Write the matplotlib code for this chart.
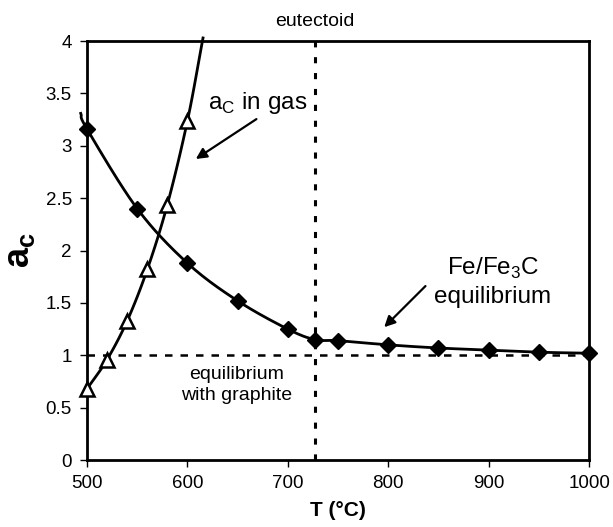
import numpy as np
import matplotlib.pyplot as plt

plt.rcParams['font.family'] = ['Liberation Sans', 'DejaVu Sans']
plt.rcParams['mathtext.fontset'] = 'custom'
plt.rcParams['mathtext.rm'] = 'Liberation Sans'
plt.rcParams['mathtext.bf'] = 'Liberation Sans:bold'

# Fe/Fe3C equilibrium carbon activity
fe3c_T = [500, 550, 600, 650, 700, 727, 750, 800, 850, 900, 950, 1000]
fe3c_ac = [3.16, 2.40, 1.88, 1.52, 1.25, 1.15, 1.14, 1.10, 1.07, 1.05, 1.03, 1.02]
# the drawn curve runs a little past the first point
fe3c_line_T = [493.7] + fe3c_T
fe3c_line_ac = [3.31] + fe3c_ac

# carbon activity in the gas
gas_T = [500, 520, 540, 560, 580, 600]
gas_ac = [0.68, 0.96, 1.33, 1.82, 2.44, 3.24]
gas_line_T = gas_T + [615.5]
gas_line_ac = gas_ac + [4.03]

eutectoid_T = 727
graphite_ac = 1.0
x_ticks = [500, 600, 700, 800, 900, 1000]
y_ticks = [0, 0.5, 1, 1.5, 2, 2.5, 3, 3.5, 4]


def smooth(xs, ys, n=20):
    # Catmull-Rom curve through the points, like a smoothed spreadsheet line
    p = np.column_stack([xs, ys]).astype(float)
    p = np.vstack([2 * p[0] - p[1], p, 2 * p[-1] - p[-2]])
    out = []
    t = np.linspace(0, 1, n, endpoint=False)[:, None]
    for i in range(1, len(p) - 2):
        p0, p1, p2, p3 = p[i - 1], p[i], p[i + 1], p[i + 2]
        seg = 0.5 * ((2 * p1) + (-p0 + p2) * t + (2 * p0 - 5 * p1 + 4 * p2 - p3) * t ** 2
                     + (-p0 + 3 * p1 - 3 * p2 + p3) * t ** 3)
        out.append(seg)
    out.append(p[-2][None, :])
    out = np.vstack(out)
    return out[:, 0], out[:, 1]


fig = plt.figure(figsize=(6.13, 5.27), dpi=100)
ax = fig.add_axes([0.142, 0.127, 0.819, 0.795])

ax.axvline(eutectoid_T, color='black', lw=2.2, ls=(0, (2, 3.2)), zorder=1)
ax.plot([500, 1000], [graphite_ac, graphite_ac], color='black', lw=1.8, ls=(0, (3, 3.2)), zorder=1)

sx, sy = smooth(fe3c_line_T, fe3c_line_ac)
ax.plot(sx, sy, color='black', lw=2, clip_on=False, zorder=3)
ax.plot(fe3c_T, fe3c_ac, ls='none', marker='D', ms=8.5, color='black', clip_on=False, zorder=4)

gx, gy = smooth(gas_line_T, gas_line_ac)
ax.plot(gx, gy, color='black', lw=2, clip_on=False, zorder=3)
ax.plot(gas_T, gas_ac, ls='none', marker='^', ms=10.5, mfc='white', mec='black', mew=1.8,
        clip_on=False, zorder=4)

ax.set_xlim(500, 1000)
ax.set_ylim(0, 4)
ax.set_xticks(x_ticks)
ax.set_yticks(y_ticks)
ax.set_yticklabels([f'{v:g}' for v in y_ticks])
ax.tick_params(direction='out', length=5, width=1, labelsize=13.5, pad=6)
for s in ax.spines.values():
    s.set_linewidth(2)

ax.set_xlabel('T (°C)', fontsize=15, fontweight='bold', labelpad=6)
ax.set_ylabel(r'$\mathbf{a}_\mathbf{c}$', fontsize=26, labelpad=6)

ax.text(eutectoid_T, 4.11, 'eutectoid', ha='center', va='bottom', fontsize=14)
ax.text(670, 3.41, r'a$_\mathrm{C}$ in gas', ha='center', va='center', fontsize=17.5)
ax.annotate('', xy=(606, 2.86), xytext=(671, 3.27),
            arrowprops=dict(arrowstyle='-|>', color='black', lw=1.6, mutation_scale=16))
ax.text(904, 1.70, 'Fe/Fe$_3$C\nequilibrium', ha='center', va='center', fontsize=17.5,
        linespacing=1.3)
ax.annotate('', xy=(794, 1.25), xytext=(839, 1.68),
            arrowprops=dict(arrowstyle='-|>', color='black', lw=1.6, mutation_scale=16))
ax.text(649, 0.72, 'equilibrium\nwith graphite', ha='center', va='center', fontsize=14,
        linespacing=1.3)

fig.savefig('out.png', dpi=100)
